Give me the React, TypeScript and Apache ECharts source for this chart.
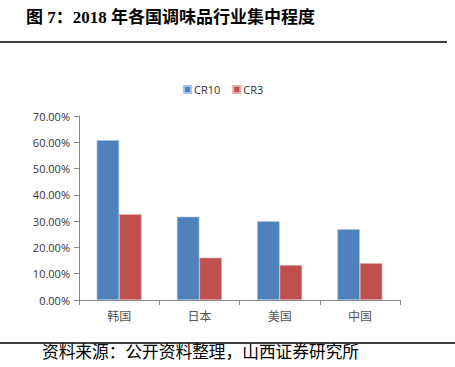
import React, { useEffect, useRef } from "react";
import * as echarts from "echarts";

const categories = ["韩国", "日本", "美国", "中国"];
const cr10 = [60.8, 31.7, 30.0, 26.9];
const cr3 = [32.6, 16.1, 13.3, 14.0];
const seriesNames = ["CR10", "CR3"];
const titleText = "图 7：2018 年各国调味品行业集中程度";
const sourceText = "资料来源：公开资料整理，山西证券研究所";

export default function App() {
  const ref = useRef<HTMLDivElement>(null);
  useEffect(() => {
    if (!ref.current) return;
    const chart = echarts.init(ref.current, null, { renderer: "svg" });
    chart.setOption({
      animation: false,
      backgroundColor: "#ffffff",
      graphic: [
        {
          type: "text",
          left: 26,
          top: 9,
          style: {
            text: titleText,
            font: "bold 17px 'Liberation Serif', 'Noto Sans CJK SC', serif",
            fill: "#000",
          },
        },
        {
          type: "line",
          shape: { x1: 0, y1: 42, x2: 447, y2: 42 },
          style: { stroke: "#000", lineWidth: 1.5 },
        },
        {
          type: "line",
          shape: { x1: 0, y1: 343, x2: 455, y2: 343 },
          style: { stroke: "#000", lineWidth: 1.5 },
        },
        {
          type: "text",
          left: 42,
          top: 343,
          style: {
            text: sourceText,
            font: "16.7px 'Noto Sans CJK SC', sans-serif",
            fill: "#000",
          },
        },
      ],
      legend: {
        top: 79,
        left: 178,
        itemWidth: 7,
        itemHeight: 7,
        itemGap: 12,
        icon: "rect",
        textStyle: { fontSize: 11, color: "#333", fontFamily: "'Open Sans', sans-serif", padding: [0, 0, 0, -2] },
        data: seriesNames,
      },
      grid: { left: 79, right: 55, top: 116, bottom: 67 },
      xAxis: {
        type: "category",
        data: categories,
        axisLine: { lineStyle: { color: "#888", width: 1 } },
        axisTick: { show: true, length: 5, lineStyle: { color: "#888" } },
        axisLabel: {
          fontSize: 12,
          color: "#555",
          margin: 9,
          fontFamily: "'Noto Sans CJK SC', sans-serif",
        },
      },
      yAxis: {
        type: "value",
        min: 0,
        max: 70,
        interval: 10,
        axisLine: { show: true, lineStyle: { color: "#888", width: 1 } },
        axisTick: { show: true, length: 5, lineStyle: { color: "#888" } },
        splitLine: { show: false },
        axisLabel: {
          fontSize: 11,
          color: "#333",
          margin: 9,
          fontFamily: "'Open Sans', sans-serif",
          formatter: (v: number) => v.toFixed(2) + "%",
        },
      },
      series: [
        {
          name: seriesNames[0],
          type: "bar",
          data: cr10,
          barGap: "0%",
          barCategoryGap: "44%",
          itemStyle: { color: "#4f81bd", borderColor: "#a9c4e6", borderWidth: 0.6 },
        },
        {
          name: seriesNames[1],
          type: "bar",
          data: cr3,
          barGap: "0%",
          barCategoryGap: "44%",
          itemStyle: { color: "#c0504d", borderColor: "#e6a9a8", borderWidth: 0.6 },
        },
      ],
    });
    return () => chart.dispose();
  }, []);
  return (
    <div
      ref={ref}
      style={{ position: "fixed", left: 0, top: 0, width: 455, height: 367 }}
    />
  );
}
